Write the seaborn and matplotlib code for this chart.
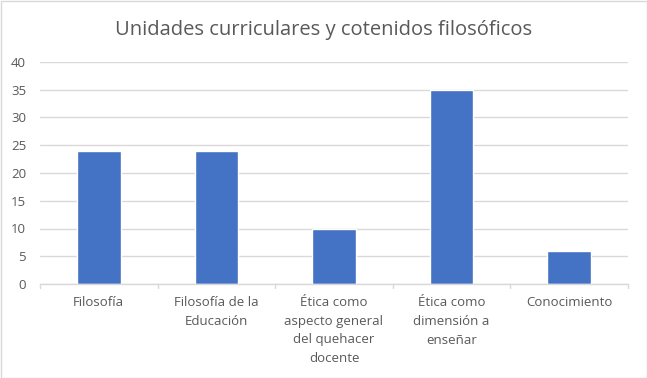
import matplotlib
matplotlib.use("Agg")
import matplotlib.pyplot as plt
import seaborn as sns
import pandas as pd

categories = ["Filosofía", "Filosofía de la\nEducación", "Ética como\naspecto general\ndel quehacer\ndocente",
              "Ética como\ndimensión a\nenseñar", "Conocimiento"]
values = [24, 24, 10, 35, 6]
title = "Unidades curriculares y cotenidos filosóficos"
yticks = [0, 5, 10, 15, 20, 25, 30, 35, 40]

sns.set_theme(style="white")
plt.rcParams['font.family'] = ['Open Sans', 'DejaVu Sans']

df = pd.DataFrame({"cat": categories, "val": values})

fig = plt.figure(figsize=(6.47, 3.78), dpi=100)
ax = fig.add_axes([40/647, 1 - 284/378, 588/647, 222/378])
sns.barplot(data=df, x="cat", y="val", color="#4472C4", width=0.37, ax=ax, saturation=1)

ax.set_ylim(0, 40)
ax.set_xlim(-0.5, 4.5)
ax.set_yticks(yticks)
ax.set_xlabel("")
ax.set_ylabel("")
ax.yaxis.grid(True, color="#D9D9D9", linewidth=1)
ax.set_axisbelow(True)
for s in ["top", "right", "left"]:
    ax.spines[s].set_visible(False)
ax.spines["bottom"].set_color("#D9D9D9")
ax.spines["bottom"].set_linewidth(1)
ax.set_xticks([0, 1, 2, 3, 4])
ax.set_xticklabels(categories, fontsize=9.5, color="#595959", linespacing=1.55, va="top")
ax.tick_params(axis="x", length=0, pad=9)
ax.tick_params(axis="y", length=0, labelsize=9.5, labelcolor="#595959", pad=10)
for b in [-0.5, 0.5, 1.5, 2.5, 3.5, 4.5]:
    ax.plot([b, b], [0, -0.7], color="#D9D9D9", lw=1, clip_on=False, transform=ax.transData)

fig.text(0.5, 1 - 30/378, title, ha="center", va="center", fontsize=14.5, color="#595959")

border = plt.Rectangle((0.5/647, 0.5/378), 1 - 1/647, 1 - 1/378, transform=fig.transFigure,
                       fill=False, edgecolor="#D9D9D9", lw=1)
fig.patches.append(border)

fig.savefig("out.png", dpi=100, facecolor="white")
